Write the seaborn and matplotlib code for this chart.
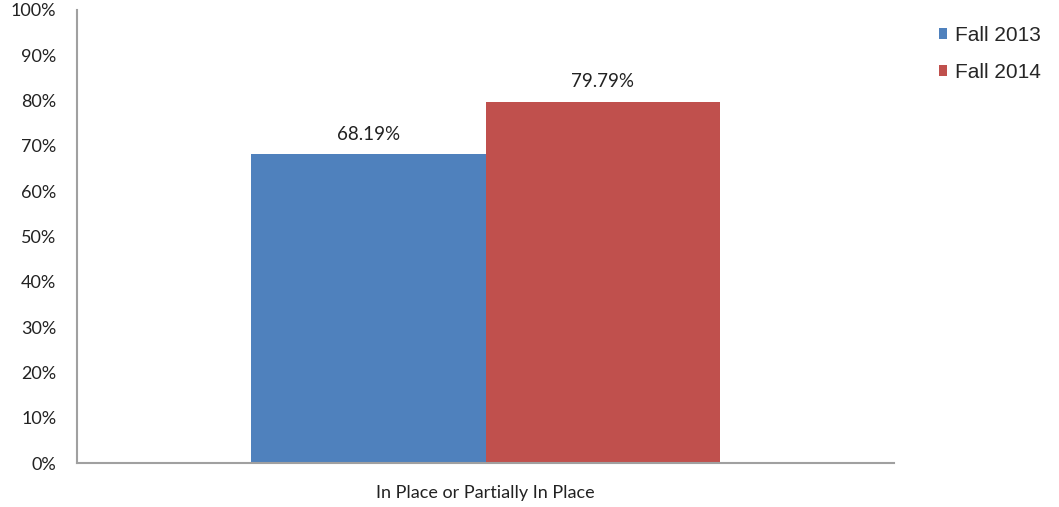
import matplotlib
matplotlib.use("Agg")
import matplotlib.pyplot as plt
import seaborn as sns
import pandas as pd
from matplotlib.ticker import PercentFormatter
from matplotlib.patches import Patch

categories = ["In Place or Partially In Place"]
terms = ["Fall 2013", "Fall 2014"]
values = [68.19, 79.79]
colors = ["#4F81BD", "#C0504D"]

df = pd.DataFrame({
    "category": categories * len(terms),
    "term": terms,
    "value": values,
})

sns.set_theme(style="white")
plt.rcParams["font.family"] = ["Lato", "DejaVu Sans"]

fig = plt.figure(figsize=(10.59, 5.07), dpi=100)
ax = fig.add_axes([77 / 1059, 1 - 463 / 507, (894 - 77) / 1059, (463 - 10) / 507])

sns.barplot(data=df, x="category", y="value", hue="term", palette=colors,
            width=0.573, saturation=1, ax=ax, legend=False, edgecolor="none")

for cont in ax.containers:
    ax.bar_label(cont, labels=[f"{v:.2f}%" for v in cont.datavalues],
                 padding=8, fontsize=13.5, color="#222222")

ax.set_xlim(-0.5, 0.5)
ax.set_ylim(0, 100)
ax.set_yticks(range(0, 101, 10))
ax.yaxis.set_major_formatter(PercentFormatter(decimals=0))
ax.tick_params(axis="y", labelsize=13, colors="#222222", length=0, pad=15)
ax.tick_params(axis="x", labelsize=13, colors="#222222", length=0, pad=16)
ax.set_xlabel("")
ax.set_ylabel("")

for side in ["top", "right"]:
    ax.spines[side].set_visible(False)
for side in ["left", "bottom"]:
    ax.spines[side].set_color("#a0a0a0")
    ax.spines[side].set_linewidth(1.5)

handles = [Patch(facecolor=c, edgecolor="none", label=t) for c, t in zip(colors, terms)]
fig.legend(handles=handles, loc="upper left", bbox_to_anchor=(939 / 1059, 1 - 26 / 507),
           frameon=False, borderpad=0, borderaxespad=0,
           handlelength=0.4, handleheight=0.45, handletextpad=0.35,
           labelspacing=0.85, prop={"family": "Liberation Sans", "size": 15})

fig.savefig("out.png", dpi=100)
